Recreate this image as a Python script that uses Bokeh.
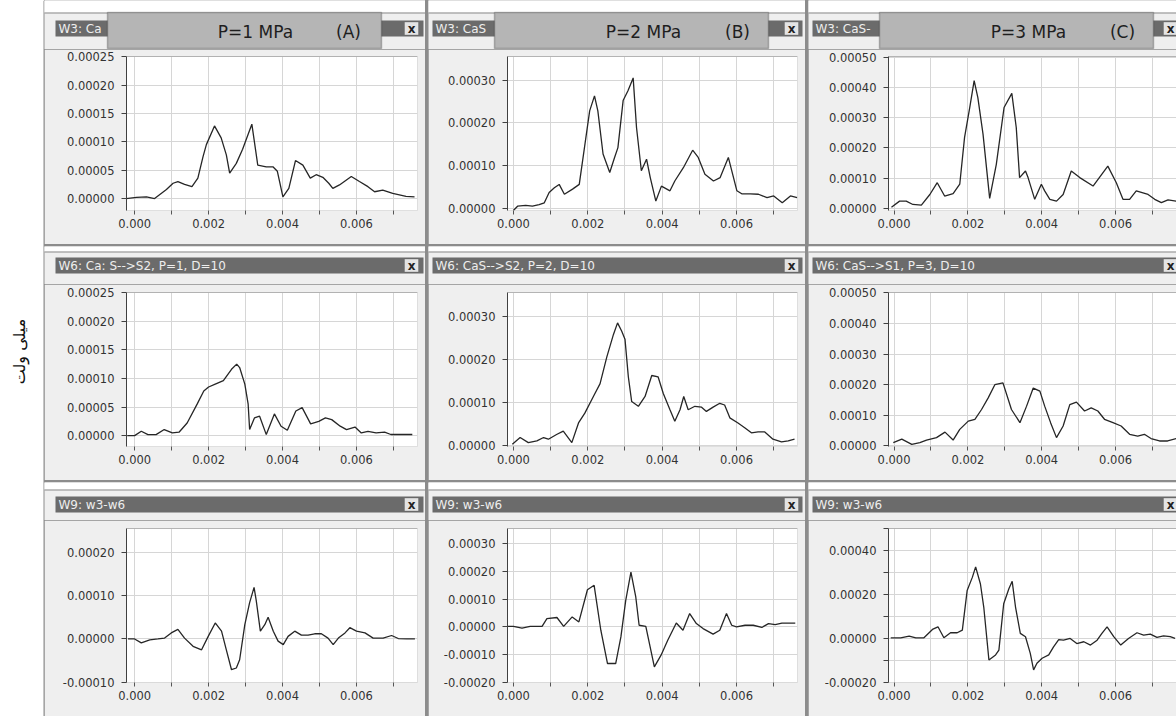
import math
from bokeh.plotting import figure
from bokeh.models import Range1d, FixedTicker, NumeralTickFormatter, BoxAnnotation, Label, Span
from bokeh.layouts import row, column
from bokeh.embed import file_html
from bokeh.resources import INLINE

# ---------------- data (time in s, signal in V) ----------------
A1_t = [-0.24e-3, 0.05e-3, 0.32e-3, 0.54e-3, 0.86e-3, 1.04e-3, 1.17e-3, 1.35e-3, 1.55e-3, 1.71e-3, 1.85e-3, 1.94e-3, 2.16e-3, 2.34e-3, 2.48e-3, 2.57e-3, 2.75e-3, 2.92e-3, 3.17e-3, 3.33e-3, 3.56e-3, 3.74e-3, 3.86e-3, 4.01e-3, 4.17e-3, 4.35e-3, 4.55e-3, 4.75e-3, 4.91e-3, 5.09e-3, 5.25e-3, 5.36e-3, 5.54e-3, 5.86e-3, 6.08e-3, 6.31e-3, 6.49e-3, 6.71e-3, 6.98e-3, 7.34e-3, 7.57e-3]
A1_v = [0.0e-5, 0.2e-5, 0.3e-5, 0.0e-5, 1.6e-5, 2.7e-5, 3.0e-5, 2.5e-5, 2.1e-5, 3.6e-5, 7.4e-5, 9.5e-5, 12.8e-5, 10.7e-5, 7.7e-5, 4.5e-5, 6.2e-5, 8.7e-5, 13.1e-5, 5.9e-5, 5.6e-5, 5.6e-5, 4.8e-5, 0.3e-5, 1.8e-5, 6.7e-5, 5.9e-5, 3.6e-5, 4.2e-5, 3.75e-5, 2.7e-5, 1.8e-5, 2.4e-5, 3.9e-5, 3.0e-5, 2.1e-5, 1.2e-5, 1.5e-5, 0.9e-5, 0.4e-5, 0.3e-5]

B1_t = [0.0e-3, 0.11e-3, 0.33e-3, 0.51e-3, 0.69e-3, 0.83e-3, 0.96e-3, 1.10e-3, 1.23e-3, 1.37e-3, 1.59e-3, 1.77e-3, 1.91e-3, 2.05e-3, 2.18e-3, 2.27e-3, 2.41e-3, 2.59e-3, 2.72e-3, 2.81e-3, 2.95e-3, 3.08e-3, 3.22e-3, 3.31e-3, 3.44e-3, 3.58e-3, 3.68e-3, 3.83e-3, 3.98e-3, 4.21e-3, 4.34e-3, 4.57e-3, 4.82e-3, 4.97e-3, 5.15e-3, 5.38e-3, 5.56e-3, 5.78e-3, 6.01e-3, 6.14e-3, 6.37e-3, 6.59e-3, 6.82e-3, 7.0e-3, 7.23e-3, 7.45e-3, 7.63e-3]
B1_v = [-0.5e-5, 0.5e-5, 0.7e-5, 0.5e-5, 0.9e-5, 1.3e-5, 3.7e-5, 4.8e-5, 5.6e-5, 3.3e-5, 4.5e-5, 5.6e-5, 14.2e-5, 22.8e-5, 26.3e-5, 22.8e-5, 12.7e-5, 8.4e-5, 11.9e-5, 14.2e-5, 25.2e-5, 27.5e-5, 30.5e-5, 18.9e-5, 8.8e-5, 11.5e-5, 7.2e-5, 1.7e-5, 5.2e-5, 4.1e-5, 6.4e-5, 9.5e-5, 13.6e-5, 11.9e-5, 8.0e-5, 6.4e-5, 7.2e-5, 11.9e-5, 4.1e-5, 3.4e-5, 3.4e-5, 3.3e-5, 2.5e-5, 2.9e-5, 1.3e-5, 2.9e-5, 2.5e-5]

C1_t = [-0.07e-3, 0.15e-3, 0.33e-3, 0.51e-3, 0.74e-3, 0.97e-3, 1.17e-3, 1.37e-3, 1.60e-3, 1.78e-3, 1.91e-3, 2.05e-3, 2.17e-3, 2.27e-3, 2.41e-3, 2.59e-3, 2.77e-3, 2.98e-3, 3.19e-3, 3.31e-3, 3.40e-3, 3.56e-3, 3.63e-3, 3.81e-3, 3.99e-3, 4.08e-3, 4.22e-3, 4.40e-3, 4.58e-3, 4.80e-3, 5.03e-3, 5.39e-3, 5.79e-3, 6.02e-3, 6.20e-3, 6.38e-3, 6.56e-3, 6.88e-3, 7.06e-3, 7.24e-3, 7.42e-3, 7.64e-3]
C1_v = [0.4e-5, 2.4e-5, 2.4e-5, 1.3e-5, 1.1e-5, 4.6e-5, 8.5e-5, 4.1e-5, 4.9e-5, 8.0e-5, 23.5e-5, 33.4e-5, 42.3e-5, 36.7e-5, 24.6e-5, 3.3e-5, 14.6e-5, 33.4e-5, 38.1e-5, 26.8e-5, 10.2e-5, 12.4e-5, 10.2e-5, 3.0e-5, 8.0e-5, 5.8e-5, 3.0e-5, 2.4e-5, 4.6e-5, 12.4e-5, 10.2e-5, 7.4e-5, 14.0e-5, 8.5e-5, 3.0e-5, 3.0e-5, 5.8e-5, 4.6e-5, 3.0e-5, 1.9e-5, 2.8e-5, 2.4e-5]

A2_t = [-0.2e-3, 0.0e-3, 0.18e-3, 0.36e-3, 0.58e-3, 0.8e-3, 1.02e-3, 1.2e-3, 1.42e-3, 1.69e-3, 1.87e-3, 2.0e-3, 2.18e-3, 2.4e-3, 2.62e-3, 2.76e-3, 2.84e-3, 2.98e-3, 3.07e-3, 3.11e-3, 3.24e-3, 3.38e-3, 3.56e-3, 3.78e-3, 3.96e-3, 4.13e-3, 4.36e-3, 4.53e-3, 4.76e-3, 4.98e-3, 5.16e-3, 5.33e-3, 5.56e-3, 5.73e-3, 5.96e-3, 6.13e-3, 6.31e-3, 6.53e-3, 6.76e-3, 6.93e-3, 7.2e-3, 7.51e-3]
A2_v = [0.0e-5, 0.0e-5, 0.76e-5, 0.18e-5, 0.18e-5, 1.06e-5, 0.47e-5, 0.6e-5, 2.2e-5, 5.5e-5, 7.8e-5, 8.5e-5, 9.0e-5, 9.6e-5, 11.6e-5, 12.5e-5, 11.9e-5, 9.0e-5, 5.5e-5, 1.06e-5, 3.1e-5, 3.4e-5, 0.18e-5, 3.8e-5, 1.65e-5, 0.94e-5, 4.3e-5, 4.9e-5, 2.06e-5, 2.5e-5, 3.1e-5, 2.8e-5, 1.65e-5, 1.06e-5, 1.5e-5, 0.47e-5, 0.76e-5, 0.47e-5, 0.6e-5, 0.2e-5, 0.2e-5, 0.2e-5]

B2_t = [-0.03e-3, 0.18e-3, 0.4e-3, 0.63e-3, 0.81e-3, 0.94e-3, 1.16e-3, 1.34e-3, 1.57e-3, 1.75e-3, 1.92e-3, 2.15e-3, 2.33e-3, 2.51e-3, 2.69e-3, 2.8e-3, 2.91e-3, 3.0e-3, 3.09e-3, 3.18e-3, 3.36e-3, 3.54e-3, 3.72e-3, 3.89e-3, 4.03e-3, 4.21e-3, 4.34e-3, 4.48e-3, 4.58e-3, 4.7e-3, 4.88e-3, 5.06e-3, 5.19e-3, 5.37e-3, 5.55e-3, 5.68e-3, 5.82e-3, 6.04e-3, 6.22e-3, 6.4e-3, 6.58e-3, 6.76e-3, 6.98e-3, 7.21e-3, 7.39e-3, 7.56e-3]
B2_v = [0.2e-5, 1.8e-5, 0.6e-5, 1.0e-5, 1.8e-5, 1.4e-5, 2.5e-5, 3.3e-5, 0.6e-5, 5.2e-5, 7.5e-5, 11.4e-5, 14.4e-5, 20.6e-5, 25.9e-5, 28.6e-5, 26.7e-5, 24.8e-5, 16.0e-5, 10.2e-5, 9.1e-5, 11.4e-5, 16.3e-5, 16.0e-5, 12.1e-5, 8.3e-5, 5.6e-5, 8.3e-5, 11.4e-5, 8.3e-5, 9.1e-5, 8.9e-5, 7.9e-5, 8.9e-5, 9.8e-5, 9.4e-5, 6.4e-5, 5.2e-5, 4.1e-5, 2.9e-5, 3.1e-5, 3.1e-5, 1.4e-5, 0.8e-5, 1.0e-5, 1.4e-5]

C2_t = [-0.02e-3, 0.21e-3, 0.48e-3, 0.7e-3, 0.88e-3, 1.15e-3, 1.38e-3, 1.6e-3, 1.78e-3, 2.01e-3, 2.19e-3, 2.37e-3, 2.55e-3, 2.73e-3, 2.95e-3, 3.18e-3, 3.41e-3, 3.59e-3, 3.77e-3, 3.95e-3, 4.08e-3, 4.24e-3, 4.4e-3, 4.58e-3, 4.76e-3, 4.94e-3, 5.16e-3, 5.34e-3, 5.52e-3, 5.7e-3, 5.93e-3, 6.15e-3, 6.38e-3, 6.6e-3, 6.78e-3, 6.96e-3, 7.19e-3, 7.41e-3, 7.64e-3]
C2_v = [1.1e-5, 2.2e-5, 0.5e-5, 1.1e-5, 1.9e-5, 2.7e-5, 4.5e-5, 1.9e-5, 5.4e-5, 8.1e-5, 8.7e-5, 11.9e-5, 15.7e-5, 20.0e-5, 20.6e-5, 11.9e-5, 7.6e-5, 13.0e-5, 18.9e-5, 17.9e-5, 13.0e-5, 7.6e-5, 2.7e-5, 6.5e-5, 13.5e-5, 14.3e-5, 11.4e-5, 12.4e-5, 11.4e-5, 8.7e-5, 7.6e-5, 6.5e-5, 3.8e-5, 3.2e-5, 3.8e-5, 2.4e-5, 1.6e-5, 1.6e-5, 2.4e-5]

A3_t = [-0.18e-3, 0.0e-3, 0.18e-3, 0.41e-3, 0.63e-3, 0.81e-3, 0.99e-3, 1.17e-3, 1.35e-3, 1.58e-3, 1.81e-3, 1.99e-3, 2.18e-3, 2.35e-3, 2.48e-3, 2.62e-3, 2.75e-3, 2.84e-3, 2.98e-3, 3.11e-3, 3.23e-3, 3.29e-3, 3.4e-3, 3.52e-3, 3.61e-3, 3.75e-3, 3.88e-3, 4.02e-3, 4.15e-3, 4.33e-3, 4.51e-3, 4.69e-3, 4.87e-3, 5.05e-3, 5.23e-3, 5.37e-3, 5.51e-3, 5.69e-3, 5.82e-3, 6.0e-3, 6.23e-3, 6.45e-3, 6.72e-3, 6.95e-3, 7.13e-3, 7.36e-3, 7.58e-3]
A3_v = [0.0e-5, 0.0e-5, -0.9e-5, -0.2e-5, 0.0e-5, 0.2e-5, 1.4e-5, 2.2e-5, 0.2e-5, -1.7e-5, -2.5e-5, 0.6e-5, 3.7e-5, 1.8e-5, -2.5e-5, -7.1e-5, -6.7e-5, -4.8e-5, 3.3e-5, 8.4e-5, 11.9e-5, 8.8e-5, 1.8e-5, 3.3e-5, 5.0e-5, 1.8e-5, -0.5e-5, -1.3e-5, 0.6e-5, 1.8e-5, 0.9e-5, 0.9e-5, 1.2e-5, 1.2e-5, 0.2e-5, -1.3e-5, 0.2e-5, 1.4e-5, 2.6e-5, 1.8e-5, 1.4e-5, 0.2e-5, 0.2e-5, 0.8e-5, 0.1e-5, 0.0e-5, 0.0e-5]

B3_t = [-0.23e-3, 0.0e-3, 0.23e-3, 0.45e-3, 0.77e-3, 0.9e-3, 1.17e-3, 1.35e-3, 1.58e-3, 1.76e-3, 1.99e-3, 2.17e-3, 2.35e-3, 2.53e-3, 2.75e-3, 2.89e-3, 3.02e-3, 3.16e-3, 3.29e-3, 3.38e-3, 3.56e-3, 3.79e-3, 3.97e-3, 4.15e-3, 4.38e-3, 4.56e-3, 4.74e-3, 4.92e-3, 5.1e-3, 5.37e-3, 5.55e-3, 5.73e-3, 5.87e-3, 6.0e-3, 6.23e-3, 6.45e-3, 6.68e-3, 6.86e-3, 7.04e-3, 7.22e-3, 7.4e-3, 7.58e-3]
B3_v = [0.2e-5, 0.2e-5, -0.4e-5, 0.2e-5, 0.2e-5, 3.0e-5, 3.4e-5, 0.2e-5, 3.6e-5, 1.8e-5, 13.4e-5, 15.0e-5, -1.2e-5, -13.2e-5, -13.2e-5, -3.6e-5, 9.6e-5, 19.8e-5, 10.8e-5, 0.6e-5, 0.2e-5, -14.4e-5, -10.2e-5, -4.8e-5, 1.4e-5, -1.2e-5, 4.8e-5, 1.2e-5, -0.6e-5, -2.6e-5, -1.2e-5, 4.8e-5, 0.6e-5, 0.0e-5, 0.6e-5, 0.6e-5, -0.2e-5, 1.2e-5, 0.8e-5, 1.4e-5, 1.4e-5, 1.4e-5]

C3_t = [-0.09e-3, 0.18e-3, 0.41e-3, 0.59e-3, 0.81e-3, 1.04e-3, 1.19e-3, 1.35e-3, 1.53e-3, 1.71e-3, 1.85e-3, 1.98e-3, 2.12e-3, 2.21e-3, 2.34e-3, 2.43e-3, 2.57e-3, 2.75e-3, 2.84e-3, 2.97e-3, 3.11e-3, 3.2e-3, 3.29e-3, 3.42e-3, 3.56e-3, 3.69e-3, 3.78e-3, 3.87e-3, 4.01e-3, 4.19e-3, 4.32e-3, 4.46e-3, 4.59e-3, 4.77e-3, 4.95e-3, 5.14e-3, 5.32e-3, 5.5e-3, 5.63e-3, 5.77e-3, 5.95e-3, 6.14e-3, 6.35e-3, 6.58e-3, 6.76e-3, 6.94e-3, 7.12e-3, 7.3e-3, 7.48e-3, 7.61e-3]
C3_v = [0.3e-5, 0.3e-5, 1.1e-5, 0.3e-5, 0.3e-5, 4.1e-5, 5.3e-5, 0.3e-5, 2.6e-5, 2.6e-5, 3.8e-5, 21.8e-5, 27.8e-5, 32.6e-5, 24.8e-5, 14.3e-5, -9.8e-5, -7.5e-5, -5.3e-5, 15.8e-5, 22.6e-5, 26.0e-5, 14.3e-5, 2.3e-5, 0.8e-5, -6.8e-5, -14.3e-5, -11.3e-5, -9.0e-5, -7.5e-5, -3.8e-5, -0.5e-5, -0.8e-5, 0.0e-5, -2.3e-5, -1.5e-5, -3.0e-5, -0.8e-5, 2.3e-5, 5.3e-5, 0.8e-5, -3.0e-5, 0.0e-5, 2.6e-5, 1.5e-5, 2.0e-5, 0.5e-5, 1.2e-5, 0.8e-5, 0.0e-5]

series = [[(A1_t, A1_v), (B1_t, B1_v), (C1_t, C1_v)],
          [(A2_t, A2_v), (B2_t, B2_v), (C2_t, C2_v)],
          [(A3_t, A3_v), (B3_t, B3_v), (C3_t, C3_v)]]

titles = [["W3: Ca", "W3: CaS", "W3: CaS-"],
          ["W6: Ca: S-->S2, P=1, D=10", "W6: CaS-->S2, P=2, D=10", "W6: CaS-->S1, P=3, D=10"],
          ["W9: w3-w6", "W9: w3-w6", "W9: w3-w6"]]
pressure_labels = ["P=1 MPa", "P=2 MPa", "P=3 MPa"]
panel_letters = ["(A)", "(B)", "(C)"]
y_title = "میلی ولت"

x_ticks = [0.0, 0.002, 0.004, 0.006]
x_minor_ticks = [0.001, 0.003, 0.005, 0.007]

y_ticks = [[[0.0, 0.00005, 0.0001, 0.00015, 0.0002, 0.00025], [0.0, 0.0001, 0.0002, 0.0003], [0.0, 0.0001, 0.0002, 0.0003, 0.0004, 0.0005]],
           [[0.0, 0.00005, 0.0001, 0.00015, 0.0002, 0.00025], [0.0, 0.0001, 0.0002, 0.0003], [0.0, 0.0001, 0.0002, 0.0003, 0.0004, 0.0005]],
           [[-0.0001, 0.0, 0.0001, 0.0002], [-0.0002, -0.0001, 0.0, 0.0001, 0.0002, 0.0003], [-0.0002, 0.0, 0.0002, 0.0004]]]
y_minor_ticks = [[[], [], []], [[], [], []], [[], [], [-0.0001, 0.0001, 0.0003, 0.0005]]]

y_limits = [[(-0.000021, 0.0002502), (-0.000005, 0.000355), (-0.000007, 0.000503)],
            [(-0.000019, 0.0002502), (-0.000003, 0.000357), (-0.000002, 0.0005015)],
            [(-0.0001005, 0.000255), (-0.0002005, 0.000355), (-0.0002005, 0.0005005)]]
x_limits = [(-0.00022, 0.00765), (-0.00016, 0.00764), (-0.00015, 0.00765)]

# ---------------- layout constants (pixels) ----------------
LABEL_W = 44
COL_W = [381, 377, 368]
COL_FL = [82, 79, 80]
COL_FR = [8, 8, 0]
HEADER_H = [49, 38, 38]
PLOT_TOP = [7, 8, 8]
FRAME_H = 154
PLOT_BOTTOM = 34
PANEL_LINE_Y = [12, 5, 7]
BAR_Y = [(20, 36), (11, 27), (14, 30)]
BAR_X = [(11, 379), (4, 374), (4, 380)]
ICON_X = [360, 356, 355]
BOX_X = [63, 66, 71]
P_CX = [211, 215, 220]
L_CX = [304, 309, 314]

FONT = "DejaVu Sans"
BAR = "#6b6b6b"
PANEL_BG = "#efefef"
SEP = "#8c8c8c"


def hbox(h, hh, l, t, r, b, **kw):
    """Box in header pixel coords (from header top-left)."""
    h.add_layout(BoxAnnotation(left=l, right=r, top=hh - t, bottom=hh - b,
                               left_units="screen", right_units="screen",
                               top_units="screen", bottom_units="screen", **kw))


def hlabel(h, hh, x, y, text, **kw):
    h.add_layout(Label(x=x, y=hh - y, x_units="screen", y_units="screen", text=text, **kw))


def make_header(r, c):
    w = COL_W[c]
    hh = HEADER_H[r]
    h = figure(width=w, height=hh, title=None, x_range=Range1d(0, w), y_range=Range1d(0, hh),
               x_axis_type=None, y_axis_type=None, output_backend="svg", toolbar_location=None,
               min_border=0, outline_line_color=None,
               background_fill_color=PANEL_BG, border_fill_color=PANEL_BG)
    h.frame_align = False
    h.grid.visible = False
    ly = PANEL_LINE_Y[r]
    hbox(h, hh, -5, -5, w + 5, ly, fill_color="white", fill_alpha=1, line_color=None)
    hbox(h, hh, -5, ly, w + 5, ly + 1, fill_color="#8a8a8a", fill_alpha=1, line_color=None)
    bt, bb = BAR_Y[r]
    bl, br = BAR_X[c]
    hbox(h, hh, bl, bt, br, bb, fill_color=BAR, fill_alpha=1, line_color=None)
    hlabel(h, hh, bl + 3, (bt + bb) / 2, titles[r][c], text_font=FONT, text_font_size="12px",
           text_color="#eeeeee", text_baseline="middle", text_align="left")
    ix = ICON_X[c]
    hbox(h, hh, ix, bt + 1.5, ix + 14, bb - 1.5, fill_color="#e4e4e4", fill_alpha=1,
         line_color="#555555", line_width=1)
    hlabel(h, hh, ix + 7, (bt + bb) / 2, "x", text_font=FONT, text_font_size="12px",
           text_font_style="bold", text_color="#222222", text_baseline="middle", text_align="center")
    if r == 0:
        bx = BOX_X[c]
        hbox(h, hh, bx, 12, bx + 274, hh - 1, fill_color="#b5b5b5", fill_alpha=1,
             line_color="#333333", line_width=1.5)
        hlabel(h, hh, P_CX[c], 31, pressure_labels[c], text_font=FONT, text_font_size="17px",
               text_color="#1e1e1e", text_baseline="middle", text_align="center")
        hlabel(h, hh, L_CX[c], 31, panel_letters[c], text_font=FONT, text_font_size="17px",
               text_color="#1e1e1e", text_baseline="middle", text_align="center")
    return h


def make_plot(r, c):
    w = COL_W[c]
    t, v = series[r][c]
    p = figure(width=w, height=PLOT_TOP[r] + FRAME_H + PLOT_BOTTOM, title=None,
               x_range=Range1d(*x_limits[c]), y_range=Range1d(*y_limits[r][c]),
               output_backend="svg", toolbar_location=None,
               min_border_left=COL_FL[c], min_border_right=COL_FR[c],
               min_border_top=PLOT_TOP[r], min_border_bottom=PLOT_BOTTOM,
               background_fill_color="white", border_fill_color=PANEL_BG,
               outline_line_color=None)
    p.frame_align = False

    xt = FixedTicker(ticks=x_ticks, minor_ticks=x_minor_ticks)
    yt = FixedTicker(ticks=y_ticks[r][c], minor_ticks=y_minor_ticks[r][c])
    xa = p.xaxis[0]
    ya = p.yaxis[0]
    xa.ticker = xt
    ya.ticker = yt
    p.xgrid[0].ticker = xt
    p.ygrid[0].ticker = yt
    xa.formatter = NumeralTickFormatter(format="0.000")
    ya.formatter = NumeralTickFormatter(format="0.00000")

    for g in (p.xgrid[0], p.ygrid[0]):
        g.grid_line_color = "#d6d6d6"
        g.grid_line_width = 1
        g.minor_grid_line_color = "#d6d6d6"

    xa.axis_line_color = None
    xa.major_tick_line_color = "#555555"
    xa.minor_tick_line_color = "#555555"
    xa.major_tick_in = 0
    xa.minor_tick_in = 0
    xa.major_tick_out = 4
    xa.minor_tick_out = 4
    xa.major_label_standoff = 4
    xa.major_label_text_font = FONT
    xa.major_label_text_font_size = "11.5px"
    xa.major_label_text_color = "#333333"

    ya.axis_line_color = "#404040"
    ya.major_tick_line_color = "#404040"
    ya.minor_tick_line_color = "#404040"
    ya.major_tick_in = 0
    ya.minor_tick_in = 0
    ya.major_tick_out = 5
    ya.minor_tick_out = 5
    ya.major_label_standoff = 7
    ya.major_label_text_font = FONT
    ya.major_label_text_font_size = "11.5px"
    ya.major_label_text_color = "#333333"

    p.add_layout(Span(location=y_limits[r][c][1], dimension="width", line_color="#8a8a8a", line_width=1))
    p.line(t, v, line_color="#262626", line_width=1.3)
    return p


sep_style = {"background-color": SEP}
rows = []
for r in range(3):
    panels = [column(make_header(r, c), make_plot(r, c), spacing=0) for c in range(3)]
    rows.append(row(*panels, spacing=3, styles=sep_style))
grid = column(*rows, spacing=2, styles=sep_style)

total_h = sum(HEADER_H) + 3 * (FRAME_H + PLOT_BOTTOM) + sum(PLOT_TOP) + 4
lf = figure(width=LABEL_W, height=total_h, x_range=Range1d(0, 1), y_range=Range1d(0, 1),
            x_axis_type=None, y_axis_type=None, title=None,
            output_backend="svg", toolbar_location=None, min_border=0,
            outline_line_color=None, background_fill_color="white", border_fill_color="white")
lf.frame_align = False
lf.grid.visible = False
lf.add_layout(BoxAnnotation(left=LABEL_W - 1, right=LABEL_W + 2, left_units="screen", right_units="screen",
                            fill_color=SEP, fill_alpha=1, line_color=None))
lf.add_layout(Label(x=19, y=total_h - 351, x_units="screen", y_units="screen", text=y_title,
                    angle=math.pi / 2, text_font=FONT, text_font_size="16px", text_color="#111111",
                    text_align="center", text_baseline="middle"))

layout = row(lf, grid, spacing=0)

open("out.html", "w").write(file_html(layout, INLINE, title="chart"))
